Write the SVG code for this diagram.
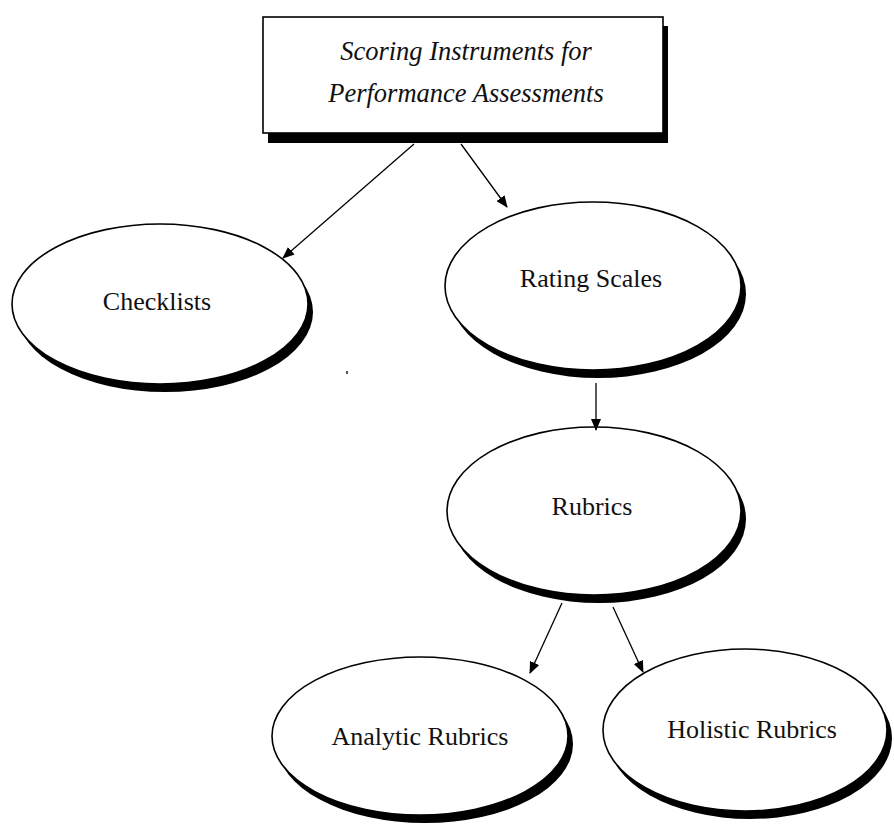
<svg xmlns="http://www.w3.org/2000/svg" width="894" height="826" viewBox="0 0 894 826">
<defs>
<style>
.shadow{fill:#000;stroke:none}
.node{fill:#fff;stroke:#000;stroke-width:1.6}
.lbl{font-family:"Liberation Serif","DejaVu Serif",serif;font-size:26px;fill:#111;text-anchor:middle}
.title{font-family:"Liberation Serif","DejaVu Serif",serif;font-size:26.5px;font-style:italic;fill:#111;text-anchor:middle}
.edge{stroke:#000;stroke-width:1.3;fill:none;marker-end:url(#arr)}
</style>
<marker id="arr" viewBox="0 0 12 10" refX="11" refY="5" markerWidth="12" markerHeight="10" markerUnits="userSpaceOnUse" orient="auto">
<path d="M0,0 L12,5 L0,10 Z" fill="#000"/>
</marker>
</defs>
<rect width="894" height="826" fill="#fff"/>
<g id="title">
<rect class="shadow" x="268" y="26" width="400" height="117"/>
<rect class="node" x="263" y="17" width="400" height="116"/>
<text class="title" x="466" y="60">Scoring Instruments for</text>
<text class="title" x="466" y="102">Performance Assessments</text>
</g>
<g id="checklists">
<ellipse class="shadow" cx="165" cy="312" rx="148" ry="80"/>
<ellipse class="node" cx="160" cy="304" rx="148" ry="80"/>
<text class="lbl" x="157" y="310">Checklists</text>
</g>
<g id="rating">
<ellipse class="shadow" cx="598" cy="294" rx="148" ry="84"/>
<ellipse class="node" cx="593" cy="286" rx="148" ry="84"/>
<text class="lbl" x="591" y="287">Rating Scales</text>
</g>
<g id="rubrics">
<ellipse class="shadow" cx="599" cy="519" rx="147" ry="84"/>
<ellipse class="node" cx="594" cy="511" rx="147" ry="84"/>
<text class="lbl" x="592" y="515">Rubrics</text>
</g>
<g id="analytic">
<ellipse class="shadow" cx="425" cy="744" rx="148" ry="79"/>
<ellipse class="node" cx="420" cy="736" rx="148" ry="79"/>
<text class="lbl" x="420" y="745">Analytic Rubrics</text>
</g>
<g id="holistic">
<ellipse class="shadow" cx="750" cy="738" rx="142" ry="81"/>
<ellipse class="node" cx="745" cy="730" rx="142" ry="81"/>
<text class="lbl" x="752" y="738">Holistic Rubrics</text>
</g>
<g id="connectors">
<line class="edge" x1="414" y1="144" x2="283" y2="258"/>
<line class="edge" x1="461" y1="144" x2="507" y2="207"/>
<line class="edge" x1="596" y1="383" x2="596" y2="430"/>
<line class="edge" x1="562" y1="603" x2="530" y2="673"/>
<line class="edge" x1="613" y1="607" x2="643" y2="672"/>
</g>
<rect x="346" y="371" width="2" height="3" fill="#555"/>
</svg>
